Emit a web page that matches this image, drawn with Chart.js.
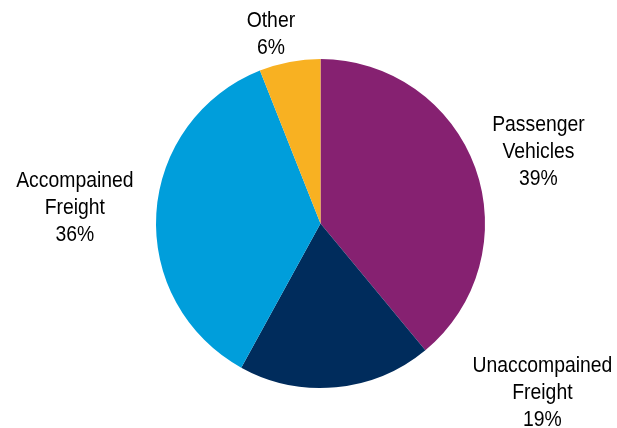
<!DOCTYPE html>
<html>
<head>
<meta charset="utf-8">
<script src="https://cdn.jsdelivr.net/npm/chart.js@4/dist/chart.umd.min.js"></script>
<style>
  html, body { margin: 0; padding: 0; background: #fff; }
  #wrap { width: 617px; height: 428px; }
</style>
</head>
<body>
<div id="wrap"><canvas id="shareChart" width="617" height="428"></canvas></div>
<script>
// freight mix, clockwise from 12 o'clock
const categories = [['Passenger', 'Vehicles'], ['Unaccompained', 'Freight'], ['Accompained', 'Freight'], ['Other']];
const shares = [39, 19, 36, 6];
const sliceColors = ['#862171', '#002C5C', '#009EDB', '#F8B122'];

// hand-placed label offsets (px) from the default outside position
const labelNudge = [[9, 4], [201, -52], [-24, -2], [-8, 29]];

// no narrow face available, so squeeze the regular sans horizontally
const labelFont = '22px "Liberation Sans", Arial, sans-serif';
const narrow = 0.88;
const lineGap = 27;

const outsideLabels = {
    id: 'outsideLabels',
    afterDatasetsDraw(chart) {
        const ctx = chart.ctx;
        const meta = chart.getDatasetMeta(0);
        const data = chart.data.datasets[0].data;
        const total = data.reduce((a, b) => a + b, 0);
        ctx.save();
        ctx.font = labelFont;
        ctx.fillStyle = '#000';
        ctx.textAlign = 'center';
        ctx.textBaseline = 'middle';
        meta.data.forEach(function(arc, i) {
            const p = arc.getProps(['x', 'y', 'startAngle', 'endAngle', 'outerRadius'], true);
            const mid = (p.startAngle + p.endAngle) / 2;
            const r = p.outerRadius * 1.35;
            const cx = p.x + Math.cos(mid) * r + labelNudge[i][0];
            const cy = p.y + Math.sin(mid) * r + labelNudge[i][1];
            const lines = [].concat(chart.data.labels[i], Math.round(data[i] / total * 100) + '%');
            lines.forEach(function(line, k) {
                ctx.save();
                ctx.translate(cx, cy + (k - (lines.length - 1) / 2) * lineGap);
                ctx.scale(narrow, 1);
                ctx.fillText(line, 0, 0);
                ctx.restore();
            });
        });
        ctx.restore();
    }
};

const ctxShare = document.getElementById('shareChart').getContext('2d');
new Chart(ctxShare, {
    type: 'pie',
    data: {
        labels: categories,
        datasets: [{
            data: shares,
            backgroundColor: sliceColors,
            borderWidth: 0
        }]
    },
    options: {
        responsive: false,
        animation: false,
        layout: {
            padding: { left: 156, right: 132, top: 59, bottom: 40 }
        },
        plugins: {
            legend: { display: false },
            tooltip: { enabled: false }
        }
    },
    plugins: [outsideLabels]
});
</script>
</body>
</html>
